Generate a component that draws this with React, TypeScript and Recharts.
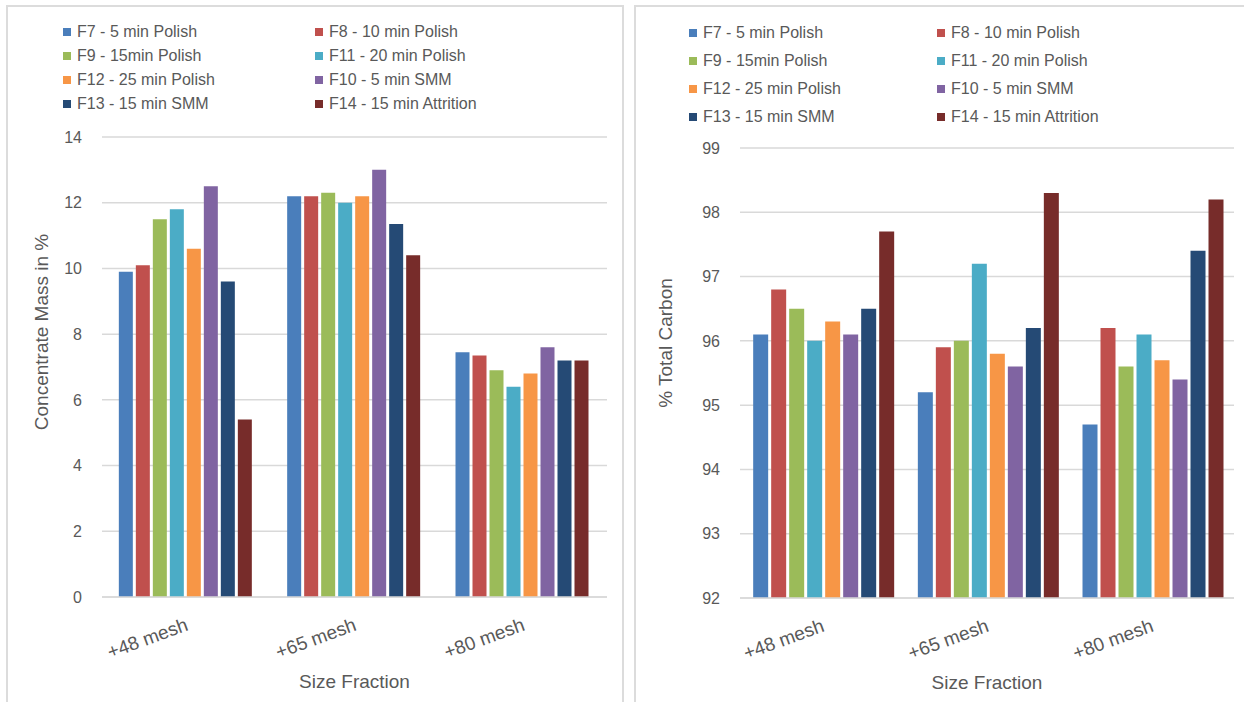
import React from "react";
import { BarChart, Bar, XAxis, YAxis, CartesianGrid, Label } from "recharts";

const SIZE_FRACTIONS = ["+48 mesh", "+65 mesh", "+80 mesh"];

const SERIES_NAMES = [
  "F7 - 5 min Polish",
  "F8 - 10 min Polish",
  "F9 - 15min Polish",
  "F11 - 20 min Polish",
  "F12 - 25 min Polish",
  "F10 - 5 min SMM",
  "F13 - 15 min SMM",
  "F14 - 15 min Attrition",
];

const SERIES_COLORS = [
  "#4a7ebb",
  "#c0504d",
  "#9bbb59",
  "#4bacc6",
  "#f79646",
  "#8064a2",
  "#254a75",
  "#772c2a",
];

// concentrate mass (%) per size fraction, in series order
const MASS_48 = [9.9, 10.1, 11.5, 11.8, 10.6, 12.5, 9.6, 5.4];
const MASS_65 = [12.2, 12.2, 12.3, 12.0, 12.2, 13.0, 11.35, 10.4];
const MASS_80 = [7.45, 7.35, 6.9, 6.4, 6.8, 7.6, 7.2, 7.2];
const MASS_TICKS = [0, 2, 4, 6, 8, 10, 12, 14];

// total carbon (%) per size fraction, in series order
const CARBON_48 = [96.1, 96.8, 96.5, 96.0, 96.3, 96.1, 96.5, 97.7];
const CARBON_65 = [95.2, 95.9, 96.0, 97.2, 95.8, 95.6, 96.2, 98.3];
const CARBON_80 = [94.7, 96.2, 95.6, 96.1, 95.7, 95.4, 97.4, 98.2];
const CARBON_TICKS = [92, 93, 94, 95, 96, 97, 98, 99];

const FONT = "'Liberation Sans', Arial, sans-serif";
const TEXT = "#595959";
const GRID = "#d9d9d9";

const buildRows = (groups: number[][]) =>
  SIZE_FRACTIONS.map((name, i) => {
    const row: Record<string, any> = { name };
    groups[i].forEach((v, s) => {
      row[`s${s}`] = v;
    });
    return row;
  });

const massRows = buildRows([MASS_48, MASS_65, MASS_80]);
const carbonRows = buildRows([CARBON_48, CARBON_65, CARBON_80]);

const SlantTick = ({ x, y, payload }: any) => {
  const tx = x + 3;
  const ty = y + 31;
  return (
    <text
      x={tx}
      y={ty}
      transform={`rotate(-20 ${tx} ${ty})`}
      textAnchor="end"
      fill={TEXT}
      fontSize={19}
      fontFamily={FONT}
    >
      {payload.value}
    </text>
  );
};

const yTitle = (value: string, dx: number, dy: number) => (props: any) => {
  const { x, y, height } = props.viewBox;
  const cx = x + dx;
  const cy = y + height / 2 + dy;
  return (
    <text
      x={cx}
      y={cy}
      transform={`rotate(-90 ${cx} ${cy})`}
      textAnchor="middle"
      dominantBaseline="central"
      fill={TEXT}
      fontSize={19}
      fontFamily={FONT}
    >
      {value}
    </text>
  );
};

const LegendBlock = ({
  left,
  top,
  colGap,
  rowHeight,
}: {
  left: number;
  top: number;
  colGap: number;
  rowHeight: number;
}) => (
  <div
    style={{
      position: "absolute",
      left,
      top,
      display: "grid",
      gridTemplateColumns: `${colGap}px ${colGap}px`,
      fontFamily: FONT,
      fontSize: 16,
      color: TEXT,
    }}
  >
    {SERIES_NAMES.map((name, i) => (
      <div
        key={name}
        style={{
          height: rowHeight,
          display: "flex",
          alignItems: "center",
          whiteSpace: "nowrap",
        }}
      >
        <span
          style={{
            width: 8,
            height: 8,
            background: SERIES_COLORS[i],
            marginRight: 6,
            display: "inline-block",
          }}
        />
        {name}
      </div>
    ))}
  </div>
);

interface PanelProps {
  rows: Record<string, any>[];
  ticks: number[];
  title: string;
  margin: { top: number; right: number; left: number; bottom: number };
  titleDx: number;
  titleDy: number;
  gap: string;
}

const Panel = ({ rows, ticks, title, margin, titleDx, titleDy, gap }: PanelProps) => (
  <BarChart
    width={622}
    height={702}
    data={rows}
    margin={margin}
    barCategoryGap={gap}
    barGap={3}
    style={{ fontFamily: FONT }}
  >
    <CartesianGrid vertical={false} stroke={GRID} strokeWidth={1.5} />
    <XAxis
      dataKey="name"
      height={60}
      tickLine={false}
      tickSize={0}
      axisLine={{ stroke: GRID, strokeWidth: 1.5 }}
      tick={<SlantTick />}
      interval={0}
    >
      <Label
        value="Size Fraction"
        position="bottom"
        offset={18}
        fill={TEXT}
        fontSize={19}
      />
    </XAxis>
    <YAxis
      width={60}
      domain={[ticks[0], ticks[ticks.length - 1]]}
      ticks={ticks}
      interval={0}
      axisLine={false}
      tickLine={false}
      tickSize={0}
      tickMargin={20}
      tick={{ fill: TEXT, fontSize: 16 }}
    >
      <Label content={yTitle(title, titleDx, titleDy)} />
    </YAxis>
    {SERIES_NAMES.map((name, i) => (
      <Bar
        key={name}
        dataKey={`s${i}`}
        name={name}
        fill={SERIES_COLORS[i]}
        isAnimationActive={false}
      />
    ))}
  </BarChart>
);

export default function App() {
  return (
    <div
      style={{
        position: "absolute",
        left: 0,
        top: 0,
        width: 1244,
        height: 702,
        background: "#fff",
        overflow: "hidden",
      }}
    >
      <div
        style={{
          position: "absolute",
          left: 6,
          top: 5,
          width: 614,
          height: 720,
          border: "2px solid #dcdcdc",
        }}
      />
      <div
        style={{
          position: "absolute",
          left: 634,
          top: 5,
          width: 640,
          height: 720,
          border: "2px solid #dcdcdc",
        }}
      />
      <div style={{ position: "absolute", left: 0, top: 0 }}>
        <Panel
          rows={massRows}
          ticks={MASS_TICKS}
          title="Concentrate Mass in %"
          margin={{ top: 137, right: 15, left: 42, bottom: 45 }}
          titleDx={-1}
          titleDy={-35}
          gap="10%"
        />
      </div>
      <div style={{ position: "absolute", left: 622, top: 0 }}>
        <Panel
          rows={carbonRows}
          ticks={CARBON_TICKS}
          title="% Total Carbon"
          margin={{ top: 148, right: 10, left: 58, bottom: 44 }}
          titleDx={-15}
          titleDy={-30}
          gap="8%"
        />
      </div>
      <LegendBlock left={63} top={20} colGap={252} rowHeight={24} />
      <LegendBlock left={689} top={19} colGap={248} rowHeight={28} />
    </div>
  );
}
